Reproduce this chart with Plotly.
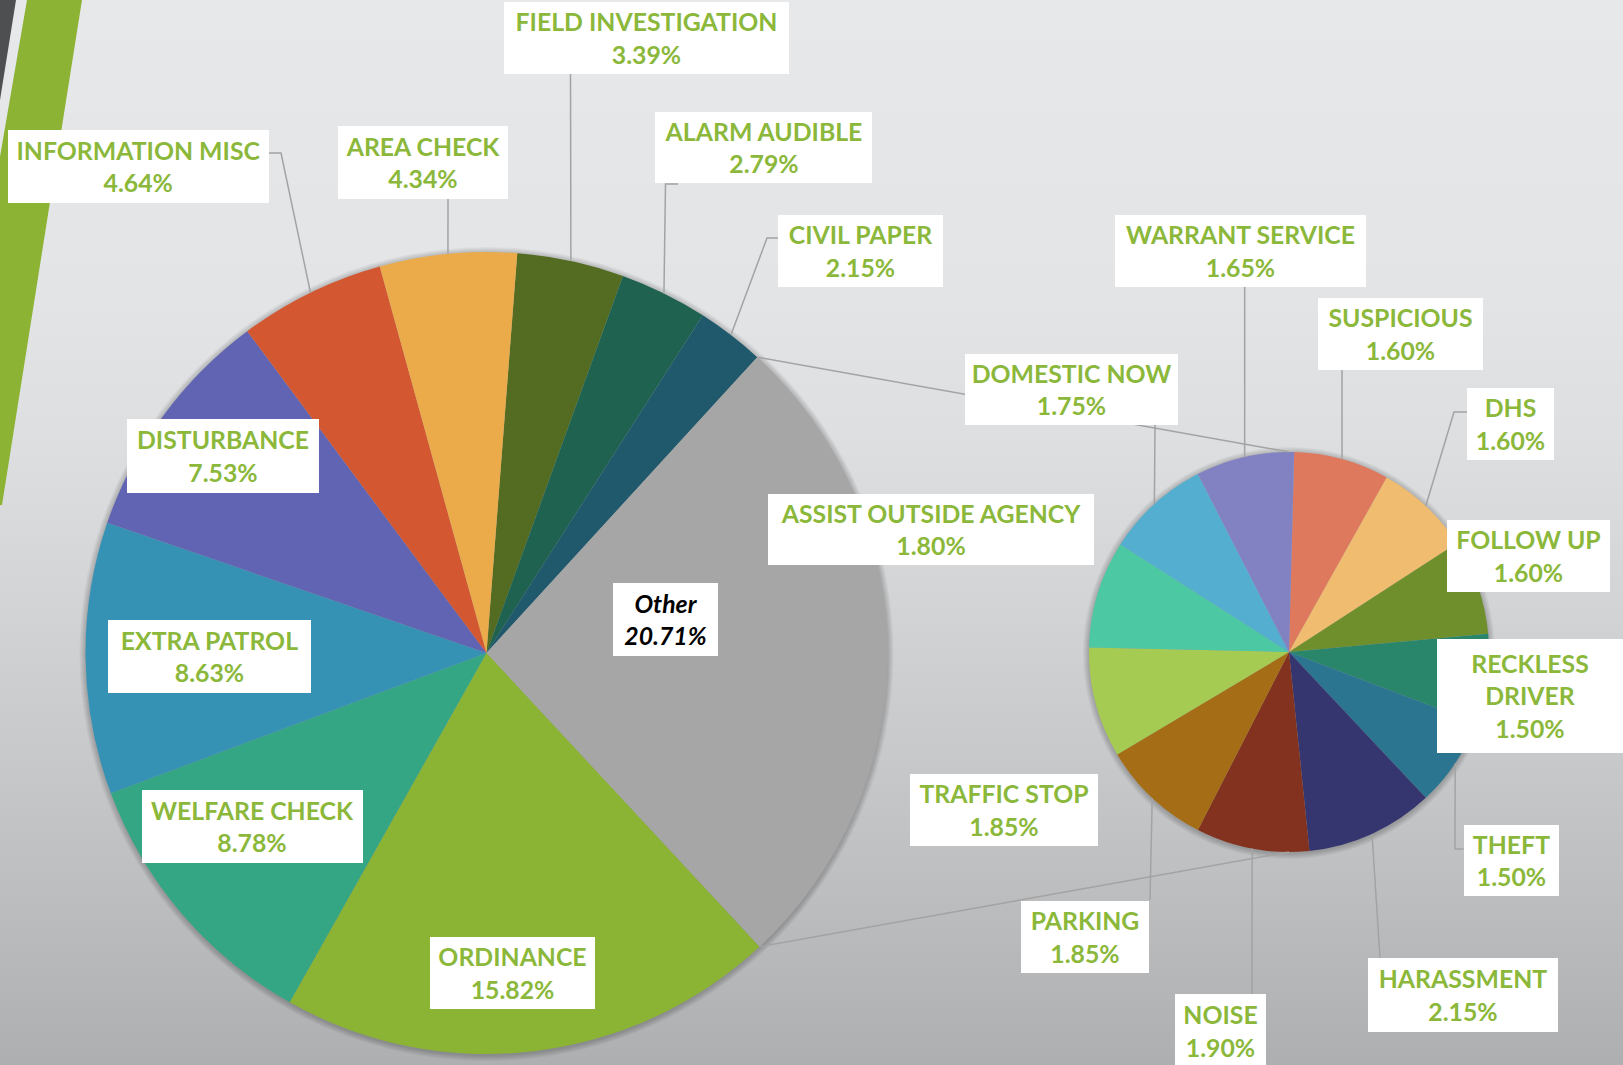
import math
import plotly.graph_objects as go

W, H = 1623, 1065

# ---------------- data ----------------
main_labels = ["FIELD INVESTIGATION", "ALARM AUDIBLE", "CIVIL PAPER", "Other",
               "ORDINANCE", "WELFARE CHECK", "EXTRA PATROL", "DISTURBANCE",
               "INFORMATION MISC", "AREA CHECK"]
main_values = [3.39, 2.79, 2.15, 20.71, 15.82, 8.78, 8.63, 7.53, 4.64, 4.34]
main_colors = ["#536c21", "#1f624f", "#20596c", "#a6a6a6", "#8bb334",
               "#34a683", "#3592b4", "#6064b2", "#d35832", "#ebab4b"]

other_labels = ["SUSPICIOUS", "DHS", "FOLLOW UP", "RECKLESS DRIVER", "THEFT",
                "HARASSMENT", "NOISE", "PARKING", "TRAFFIC STOP",
                "ASSIST OUTSIDE AGENCY", "DOMESTIC NOW", "WARRANT SERVICE"]
other_values = [1.60, 1.60, 1.60, 1.50, 1.50, 2.15, 1.90, 1.85, 1.85, 1.80, 1.75, 1.65]
other_colors = ["#de795e", "#f0bc70", "#6f8f2d", "#2a866a", "#2b7590", "#35366f",
                "#82321e", "#a56e16", "#a6cb52", "#4cc8a2", "#53aecf", "#8282c2"]

# ---------------- layout geometry (pixels) ----------------
MAIN = dict(cx=486.5, cy=653.0, r=401.0, rot=4.4)
SUB = dict(cx=1289.0, cy=652.0, r=200.0, rot=1.5)

# label boxes: center x, center y, width, height, leader elbow points
LABELS = {
    "INFORMATION MISC": (138.5, 166.5, 261, 73, [(269, 153), (281, 153)]),
    "AREA CHECK": (423, 162.5, 170, 73, [(448, 199)]),
    "FIELD INVESTIGATION": (646.5, 38, 285, 72, [(570.5, 73.5)]),
    "ALARM AUDIBLE": (763, 147.5, 217, 71, [(678, 184), (665.5, 184)]),
    "CIVIL PAPER": (860.5, 251, 165, 72, [(778, 238), (767, 238)]),
    "Other": (665.5, 619.5, 105, 73, None),
    "ORDINANCE": (512, 973, 165, 72, None),
    "WELFARE CHECK": (252.5, 826.5, 221, 73, None),
    "EXTRA PATROL": (209.5, 656.5, 203, 73, None),
    "DISTURBANCE": (223, 456, 192, 74, None),
    "SUSPICIOUS": (1400.5, 334, 165, 72, [(1342, 369.5)]),
    "DHS": (1510.5, 424, 87, 72, [(1467, 412), (1454, 412)]),
    "FOLLOW UP": (1528, 556, 163, 72, None),
    "RECKLESS DRIVER": (1530, 696, 186, 114, None),
    "THEFT": (1511, 860.5, 95, 71, [(1463.6, 849), (1455, 849)]),
    "HARASSMENT": (1463, 994.7, 190, 74, [(1380, 958)]),
    "NOISE": (1220.5, 1030.7, 91, 74, [(1252, 994)]),
    "PARKING": (1085, 937, 128, 72, [(1150, 900)]),
    "TRAFFIC STOP": (1004, 810, 188, 72, None),
    "ASSIST OUTSIDE AGENCY": (931, 529.5, 326, 71, None),
    "DOMESTIC NOW": (1071.5, 389.5, 213, 71, [(1155, 425)]),
    "WARRANT SERVICE": (1240.5, 251, 251, 72, [(1244.7, 287)]),
}

GREEN = "#8bb83a"
FONT = "Lato, 'Open Sans', sans-serif"
FSIZE = 24.8


def px(x):
    return x / W


def py(y):
    return 1 - y / H


def slice_angles(values, rot):
    tot = sum(values)
    a = rot
    out = []
    for v in values:
        span = 360.0 * v / tot
        out.append((a, a + span / 2, a + span))
        a += span
    return out


def on_circle(g, deg):
    t = math.radians(deg)
    return g["cx"] + g["r"] * math.sin(t), g["cy"] - g["r"] * math.cos(t)


def domain(g):
    return dict(x=[px(g["cx"] - g["r"]), px(g["cx"] + g["r"])],
                y=[py(g["cy"] + g["r"]), py(g["cy"] - g["r"])])


fig = go.Figure()
fig.add_trace(go.Pie(labels=main_labels, values=main_values, sort=False,
                     direction="clockwise", rotation=MAIN["rot"],
                     marker=dict(colors=main_colors, line=dict(width=0)),
                     textinfo="none", hoverinfo="label+value",
                     domain=domain(MAIN), showlegend=False))
fig.add_trace(go.Pie(labels=other_labels, values=other_values, sort=False,
                     direction="clockwise", rotation=SUB["rot"],
                     marker=dict(colors=other_colors, line=dict(width=0)),
                     textinfo="none", hoverinfo="label+value",
                     domain=domain(SUB), showlegend=False))

shapes = []

# background gradient bands
stops = [(0, (231, 232, 234)), (300, (227, 228, 230)), (450, (221, 222, 224)),
         (600, (211, 212, 214)), (750, (200, 201, 203)), (900, (188, 189, 191)),
         (1065, (173, 175, 176))]


def bg_color(y):
    for (y0, c0), (y1, c1) in zip(stops[:-1], stops[1:]):
        if y0 <= y <= y1:
            f = (y - y0) / (y1 - y0)
            return "rgb(%d,%d,%d)" % tuple(round(a + (b - a) * f) for a, b in zip(c0, c1))
    return "rgb(%d,%d,%d)" % stops[-1][1]


step = 8
y = 0
while y < H:
    shapes.append(dict(type="rect", xref="paper", yref="paper", layer="below",
                       x0=0, x1=1, y0=py(min(y + step + 1, H)), y1=py(y),
                       fillcolor=bg_color(y + step / 2), line=dict(width=0)))
    y += step


def path(points, close=True):
    s = "M " + " L ".join("%.5f,%.5f" % (px(a), py(b)) for a, b in points)
    return s + (" Z" if close else "")


# decorative stripes top-left
shapes.append(dict(type="path", xref="paper", yref="paper", layer="below",
                   path=path([(27, 0), (82, 0), (2, 505), (-60, 505)]),
                   fillcolor="#8cb333", line=dict(width=0)))
shapes.append(dict(type="path", xref="paper", yref="paper", layer="below",
                   path=path([(0, 0), (16, 0), (0, 100)]),
                   fillcolor="#4e4f51", line=dict(width=0)))

# soft shadows behind pies
for g in (MAIN, SUB):
    for k in range(1, 7):
        R = g["r"] + k
        shapes.append(dict(type="circle", xref="paper", yref="paper", layer="below",
                           x0=px(g["cx"] - R), x1=px(g["cx"] + R),
                           y0=py(g["cy"] + R + 1), y1=py(g["cy"] - R + 1),
                           fillcolor="rgba(0,0,0,0.035)", line=dict(width=0)))

LINE = dict(color="#a3a3a3", width=1.5)

# connector lines between the "Other" slice and the secondary pie
main_ang = slice_angles(main_values, MAIN["rot"])
oi = main_labels.index("Other")
p_top = on_circle(MAIN, main_ang[oi][0])
p_bot = on_circle(MAIN, main_ang[oi][2])
shapes.append(dict(type="path", xref="paper", yref="paper", layer="above",
                   path=path([p_top, (SUB["cx"], SUB["cy"] - SUB["r"])], close=False),
                   line=LINE))
shapes.append(dict(type="path", xref="paper", yref="paper", layer="above",
                   path=path([p_bot, (SUB["cx"], SUB["cy"] + SUB["r"])], close=False),
                   line=LINE))

# leader lines
sub_ang = slice_angles(other_values, SUB["rot"])
mid_points = {}
for lab, a in zip(main_labels, main_ang):
    mid_points[lab] = on_circle(MAIN, a[1])
for lab, a in zip(other_labels, sub_ang):
    mid_points[lab] = on_circle(SUB, a[1])

for lab, (cx, cy, w, h, pts) in LABELS.items():
    if pts:
        shapes.append(dict(type="path", xref="paper", yref="paper", layer="above",
                           path=path(pts + [mid_points[lab]], close=False), line=LINE))

# labels
annotations = []
all_labels = list(zip(main_labels, main_values)) + list(zip(other_labels, other_values))
for lab, val in all_labels:
    cx, cy, w, h, pts = LABELS[lab]
    name = lab.replace(" ", "<br>") if lab == "RECKLESS DRIVER" else lab
    text = "%s<br>%.2f%%" % (name, val)
    if lab == "Other":
        font = dict(family=FONT, size=FSIZE, color="#000000", weight=700, style="italic")
    else:
        font = dict(family=FONT, size=FSIZE, color=GREEN, weight=700)
    annotations.append(dict(x=px(cx), y=py(cy), xref="paper", yref="paper",
                            xanchor="center", yanchor="middle", text=text,
                            showarrow=False, width=w, height=h, align="center",
                            valign="middle", bgcolor="#ffffff", borderpad=0,
                            borderwidth=0, font=font))

fig.update_layout(width=W, height=H, margin=dict(l=0, r=0, t=0, b=0),
                  paper_bgcolor="#e6e7e9", plot_bgcolor="#e6e7e9",
                  shapes=shapes, annotations=annotations, showlegend=False)

fig.write_html("out.html", config={"displayModeBar": False},
               post_script="document.body.style.margin='0';document.body.style.overflow='hidden';")
